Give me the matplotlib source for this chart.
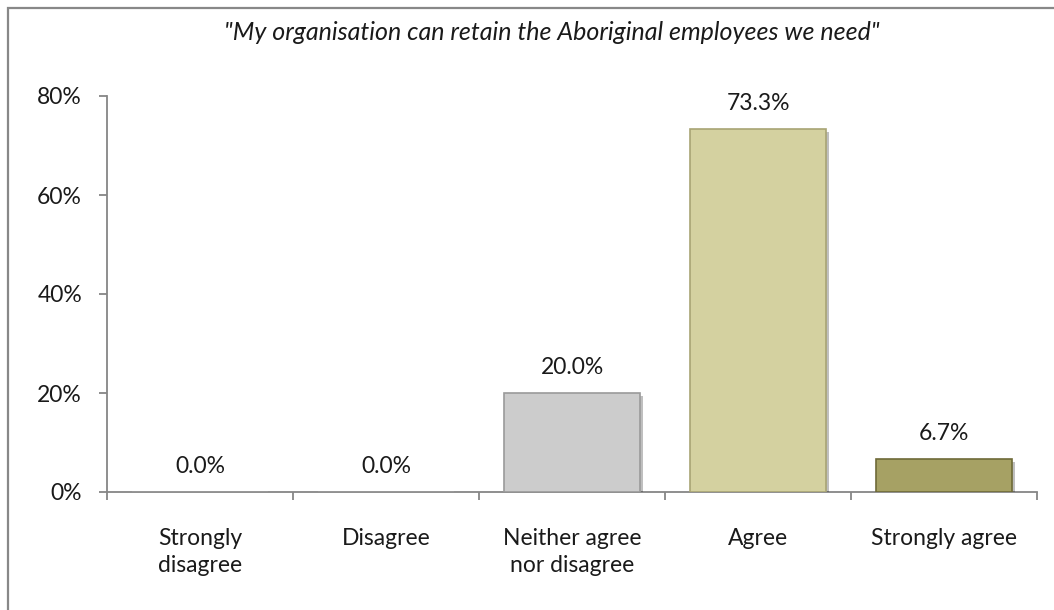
import matplotlib
matplotlib.use("Agg")
import matplotlib.pyplot as plt
import matplotlib.patches as mpatches
import matplotlib.patheffects as pe
from matplotlib.ticker import FuncFormatter, FixedLocator

categories = ["Strongly\ndisagree", "Disagree", "Neither agree\nnor disagree", "Agree", "Strongly agree"]
values = [0.0, 0.0, 20.0, 73.3, 6.7]
value_labels = ["0.0%", "0.0%", "20.0%", "73.3%", "6.7%"]
yticks = [0, 20, 40, 60, 80]
title = "\"My organisation can retain the Aboriginal employees we need\""

bar_colors = ["#CCCCCC", "#CCCCCC", "#CCCCCC", "#D4D1A0", "#A6A164"]
edge_colors = ["#9A9A9A", "#9A9A9A", "#9A9A9A", "#A8A474", "#6E6A38"]

plt.rcParams['font.family'] = ['Lato', 'DejaVu Sans']

fig = plt.figure(figsize=(10.54, 6.10), dpi=100)
ax = fig.add_axes([107/1054, 1-492/610, (1037-107)/1054, (492-96)/610])

x = list(range(len(categories)))
bars = ax.bar(x, values, width=0.73, color=bar_colors, edgecolor=edge_colors, linewidth=1.2, zorder=3)
for b in bars:
    b.set_path_effects([pe.SimplePatchShadow(offset=(2, -2), shadow_rgbFace="#000000", alpha=0.25), pe.Normal()])

for xi, v, lab in zip(x, values, value_labels):
    ax.annotate(lab, (xi, v), xytext=(0, 11), textcoords="offset points",
                ha="center", va="bottom", fontsize=16.5, color="#1a1a1a")

ax.set_xlim(-0.5, 4.5)
ax.set_ylim(0, 80)
ax.set_yticks(yticks)
ax.yaxis.set_major_formatter(FuncFormatter(lambda v, p: f"{int(v)}%"))
ax.set_xticks(x)
ax.set_xticklabels(categories, fontsize=16.5, color="#1a1a1a", linespacing=1.35)
ax.xaxis.set_minor_locator(FixedLocator([i - 0.5 for i in range(len(categories) + 1)]))
ax.tick_params(axis="x", which="major", length=0, pad=26)
ax.tick_params(axis="x", which="minor", length=6, width=1.3, color="#868686", direction="out")
ax.tick_params(axis="y", length=6, width=1.3, color="#868686", labelsize=16.5, labelcolor="#1a1a1a", pad=12)

for s in ["top", "right"]:
    ax.spines[s].set_visible(False)
for s in ["left", "bottom"]:
    ax.spines[s].set_color("#868686")
    ax.spines[s].set_linewidth(1.3)

fig.text(552/1054, 1-33/610, title, ha="center", va="center", fontsize=18, style="italic", color="#1a1a1a")

border = mpatches.Rectangle((8/1054, -0.1), 1.2, 1.1 - 8/610, transform=fig.transFigure,
                            fill=False, edgecolor="#888888", linewidth=1.6, zorder=0)
fig.patches.append(border)

fig.savefig("out.png", dpi=100, facecolor="white")
